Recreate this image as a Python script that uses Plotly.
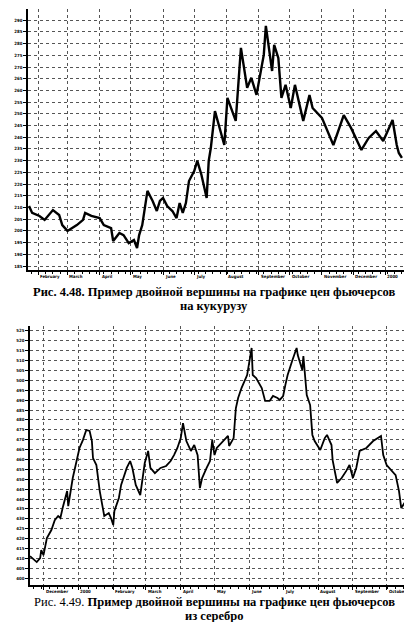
import plotly.graph_objects as go

# ---------------- Fig. 4.48 : corn futures ----------------
corn_dates = [
    "1999-01-23", "1999-01-26", "1999-02-02", "1999-02-07", "1999-02-15", "1999-02-21",
    "1999-02-24", "1999-03-01", "1999-03-10", "1999-03-16", "1999-03-18", "1999-03-24",
    "1999-04-01", "1999-04-05", "1999-04-12", "1999-04-14", "1999-04-20", "1999-04-24",
    "1999-04-29", "1999-05-04", "1999-05-07", "1999-05-09", "1999-05-12", "1999-05-14",
    "1999-05-17", "1999-05-22", "1999-05-26", "1999-05-29", "1999-06-01", "1999-06-05",
    "1999-06-10", "1999-06-14", "1999-06-17", "1999-06-20", "1999-06-23", "1999-06-26",
    "1999-07-01", "1999-07-04", "1999-07-08", "1999-07-13", "1999-07-15", "1999-07-17",
    "1999-07-21", "1999-07-30", "1999-08-02", "1999-08-10", "1999-08-15", "1999-08-21",
    "1999-08-25", "1999-08-30", "1999-09-06", "1999-09-08", "1999-09-11", "1999-09-14",
    "1999-09-16", "1999-09-20", "1999-09-23", "1999-09-27", "1999-10-02", "1999-10-06",
    "1999-10-14", "1999-10-20", "1999-10-23", "1999-11-01", "1999-11-12", "1999-11-22",
    "1999-11-29", "1999-12-09", "1999-12-16", "1999-12-23", "1999-12-30", "2000-01-08",
    "2000-01-12", "2000-01-14", "2000-01-17",
]
corn_prices = [
    210.6, 207.7, 206.4, 204.7, 208.9, 206.8,
    202.5, 200.0, 202.5, 204.7, 207.7, 206.4,
    205.5, 202.5, 201.2, 195.7, 199.1, 198.2,
    194.8, 196.1, 192.7, 198.2, 202.5, 208.9,
    217.1, 212.8, 208.5, 212.8, 214.1, 210.6,
    208.5, 205.5, 211.9, 207.7, 211.9, 221.3,
    225.6, 229.9, 223.9, 214.1, 229.9, 235.4,
    251.2, 236.7, 256.8, 247.0, 278.2, 261.1,
    265.4, 258.1, 275.2, 287.6, 276.9, 268.3,
    279.5, 273.9, 256.8, 262.4, 252.5, 262.4,
    247.0, 258.1, 252.5, 248.3, 236.7, 249.5,
    244.0, 234.6, 239.7, 242.7, 238.4, 247.4,
    236.7, 233.3, 231.2,
]
corn_yticks = [185, 190, 195, 200, 205, 210, 215, 220, 225, 230, 235,
               240, 245, 250, 255, 260, 265, 270, 275, 280, 285, 290]
corn_month_ticks = ["1999-02-01", "1999-03-01", "1999-04-01", "1999-05-01", "1999-06-01",
                    "1999-07-01", "1999-08-01", "1999-09-01", "1999-10-01", "1999-11-01",
                    "1999-12-01", "2000-01-01"]
corn_month_labels = ["February", "March", "April", "May", "June", "July", "August",
                     "September", "October", "November", "December", "2000"]

# ---------------- Fig. 4.49 : silver futures ----------------
silver_dates = [
    "1999-11-19", "1999-11-25", "1999-11-28", "1999-11-29", "1999-12-01", "1999-12-04",
    "1999-12-08", "1999-12-11", "1999-12-14", "1999-12-16", "1999-12-18", "1999-12-22",
    "1999-12-23", "1999-12-27", "1999-12-30", "2000-01-02", "2000-01-05", "2000-01-08",
    "2000-01-11", "2000-01-13", "2000-01-14", "2000-01-17", "2000-01-20", "2000-01-23",
    "2000-01-24", "2000-01-28", "2000-01-30", "2000-02-01", "2000-02-02", "2000-02-06",
    "2000-02-08", "2000-02-13", "2000-02-16", "2000-02-18", "2000-02-21", "2000-02-25",
    "2000-02-29", "2000-03-03", "2000-03-05", "2000-03-09", "2000-03-14", "2000-03-19",
    "2000-03-23", "2000-03-26", "2000-03-29", "2000-04-01", "2000-04-03", "2000-04-06",
    "2000-04-10", "2000-04-13", "2000-04-16", "2000-04-18", "2000-04-20", "2000-04-24",
    "2000-04-27", "2000-04-29", "2000-05-01", "2000-05-03", "2000-05-09", "2000-05-13",
    "2000-05-14", "2000-05-18", "2000-05-20", "2000-05-22", "2000-05-25", "2000-05-30",
    "2000-06-03", "2000-06-04", "2000-06-07", "2000-06-12", "2000-06-15", "2000-06-19",
    "2000-06-22", "2000-06-26", "2000-06-28", "2000-07-01", "2000-07-03", "2000-07-05",
    "2000-07-09", "2000-07-13", "2000-07-14", "2000-07-18", "2000-07-19", "2000-07-22",
    "2000-07-25", "2000-07-27", "2000-07-29", "2000-08-03", "2000-08-07", "2000-08-09",
    "2000-08-13", "2000-08-14", "2000-08-18", "2000-08-22", "2000-08-26", "2000-08-29",
    "2000-09-01", "2000-09-04", "2000-09-07", "2000-09-13", "2000-09-19", "2000-09-26",
    "2000-09-28", "2000-10-01", "2000-10-09", "2000-10-12", "2000-10-14", "2000-10-18",
]
silver_prices = [
    411.1, 408.1, 410.1, 414.2, 411.6, 420.2,
    424.3, 429.3, 431.4, 430.4, 435.4, 444.0,
    436.4, 450.6, 458.2, 465.8, 469.8, 474.9,
    474.4, 469.3, 460.7, 457.2, 444.0, 435.4,
    431.4, 432.9, 430.4, 426.8, 433.9, 440.5,
    447.1, 455.7, 459.2, 455.7, 447.1, 442.0,
    458.2, 464.3, 455.7, 453.1, 455.7, 456.7,
    459.2, 462.2, 465.8, 470.8, 478.4, 469.3,
    464.3, 467.3, 462.2, 445.5, 450.6, 455.7,
    459.2, 469.8, 462.2, 465.8, 469.3, 471.9,
    466.8, 470.8, 486.0, 491.1, 496.1, 502.7,
    516.4, 502.7, 501.2, 496.1, 489.6, 489.6,
    492.1, 491.1, 490.1, 492.1, 497.7, 502.7,
    509.8, 516.4, 512.8, 505.2, 512.3, 492.6,
    487.5, 472.4, 469.3, 464.8, 470.8, 472.4,
    467.3, 459.7, 448.1, 450.6, 454.1, 457.2,
    450.6, 455.7, 464.3, 465.8, 469.3, 471.9,
    462.2, 457.2, 452.1, 444.0, 435.4, 439.0,
]
silver_yticks = [400, 405, 410, 415, 420, 425, 430, 435, 440, 445, 450, 455, 460,
                 465, 470, 475, 480, 485, 490, 495, 500, 505, 510, 515, 520, 525]
silver_month_ticks = ["1999-12-01", "2000-01-01", "2000-02-01", "2000-03-01", "2000-04-01",
                      "2000-05-01", "2000-06-01", "2000-07-01", "2000-08-01", "2000-09-01",
                      "2000-10-01"]
silver_month_labels = ["December", "2000", "February", "March", "April", "May", "June",
                       "July", "August", "September", "October"]

caption_top = ["<b>Рис. 4.48. Пример двойной вершины на графике цен фьючерсов</b>",
               "<b>на кукурузу</b>"]
caption_bottom = ["Рис. 4.49. <b>Пример двойной вершины на графике цен фьючерсов</b>",
                  "<b>из серебро</b>"]

W, H = 412, 622
TICKFONT = dict(family="DejaVu Sans Condensed, DejaVu Sans", size=4.3, color="black",
                weight="bold")
GRID = "#555555"
WEEK = 7 * 86400000

fig = go.Figure()
fig.add_trace(go.Scatter(x=corn_dates, y=corn_prices, mode="lines",
                         line=dict(color="black", width=2.4), xaxis="x", yaxis="y"))
fig.add_trace(go.Scatter(x=silver_dates, y=silver_prices, mode="lines",
                         line=dict(color="black", width=1.8), xaxis="x2", yaxis="y2"))


def xaxis_cfg(domain, rng, ticks, anchor):
    return dict(domain=domain, range=rng, type="date", anchor=anchor,
                tickvals=ticks, showticklabels=False,
                showgrid=True, gridcolor=GRID, griddash="dot", gridwidth=1,
                showline=True, linecolor="black", linewidth=1.5,
                ticks="outside", ticklen=3, tickcolor="black",
                minor=dict(dtick=WEEK, tick0="1999-01-04", ticks="outside", ticklen=2,
                           tickcolor="black", showgrid=False),
                zeroline=False, fixedrange=True)


def yaxis_cfg(domain, rng, ticks, anchor):
    return dict(domain=domain, range=rng, anchor=anchor,
                tickvals=ticks, ticktext=[str(t) for t in ticks], tickfont=TICKFONT,
                showgrid=True, gridcolor=GRID, griddash="dot", gridwidth=1,
                showline=True, linecolor="black", linewidth=1.5,
                ticks="outside", ticklen=3, tickcolor="black",
                zeroline=False, fixedrange=True)


fig.update_layout(
    width=W, height=H, margin=dict(l=0, r=0, t=0, b=0),
    paper_bgcolor="white", plot_bgcolor="white", showlegend=False,
    xaxis=xaxis_cfg([20 / W, 396 / W], ["1999-01-22", "2000-01-19"], corn_month_ticks, "y"),
    yaxis=yaxis_cfg([(H - 262) / H, (H - 1) / H], [183.3, 294.8], corn_yticks, "x"),
    xaxis2=xaxis_cfg([22 / W, 400 / W], ["1999-11-19", "2000-10-20"], silver_month_ticks, "y2"),
    yaxis2=yaxis_cfg([(H - 577) / H, (H - 318) / H], [396.5, 527.5], silver_yticks, "x2"),
)

annotations = []
for xr, yr, ticks, labels in [("x", "y domain", corn_month_ticks, corn_month_labels),
                              ("x2", "y2 domain", silver_month_ticks, silver_month_labels)]:
    for t, lab in zip(ticks, labels):
        annotations.append(dict(x=t, y=0, xref=xr, yref=yr, text=lab, showarrow=False,
                                xanchor="left", yanchor="top", yshift=-2,
                                font=TICKFONT))

CAPFONT = dict(family="Liberation Serif", size=12.5, color="black")
for lines, ys in [(caption_top, (284, 298)), (caption_bottom, (594, 608))]:
    for txt, yy in zip(lines, ys):
        annotations.append(dict(x=206 / W, y=1 - yy / H, xref="paper", yref="paper",
                                text=txt, showarrow=False, xanchor="center",
                                yanchor="middle", font=CAPFONT))

fig.update_layout(annotations=annotations)
fig.write_html("out.html")
